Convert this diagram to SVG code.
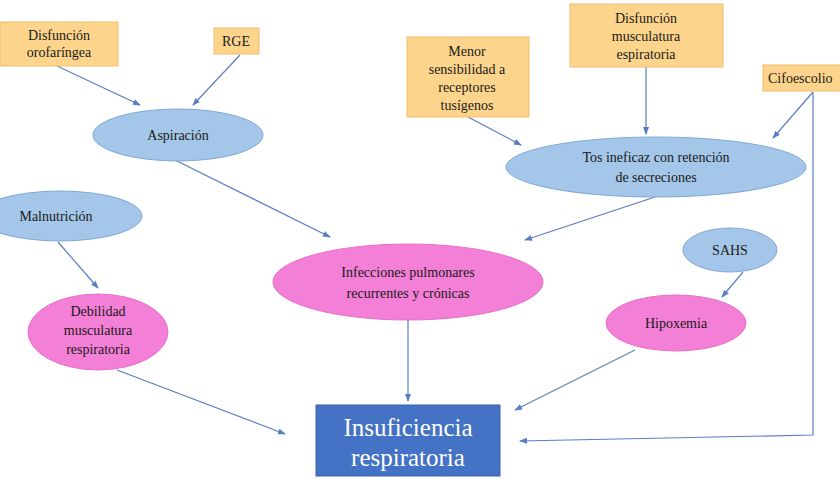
<svg xmlns="http://www.w3.org/2000/svg" width="840" height="480" viewBox="0 0 840 480">
<style>
text{font-family:"Liberation Serif","Times New Roman",serif;fill:#1a1a1a;text-anchor:middle}
.t{font-size:14px}
.b{fill:#fcd48c;stroke:#f2bd6a;stroke-width:1}
.e{fill:#a4c6e8;stroke:#7fa8d8;stroke-width:1}
.p{fill:#f47fd6;stroke:#e86cc8;stroke-width:1}
.c{stroke:#5a7ec2;stroke-width:1.2;fill:none;marker-end:url(#a)}
</style>
<defs><marker id="a" markerWidth="8" markerHeight="8" refX="7" refY="4" orient="auto" markerUnits="userSpaceOnUse"><path d="M0,1 L8,4 L0,7 Z" fill="#5a7ec2"/></marker></defs>
<rect width="840" height="480" fill="#fff"/>
<g id="connectors">
<line class="c" x1="57" y1="66" x2="140" y2="105"/>
<line class="c" x1="240" y1="55" x2="193" y2="105"/>
<line class="c" x1="175" y1="160" x2="330" y2="237"/>
<line class="c" x1="58" y1="242" x2="98" y2="288"/>
<line class="c" x1="468" y1="117" x2="521" y2="145"/>
<line class="c" x1="646" y1="67" x2="646" y2="134"/>
<line class="c" x1="813" y1="92" x2="773" y2="138"/>
<line class="c" x1="655" y1="197" x2="525" y2="240"/>
<line class="c" x1="743" y1="272" x2="722" y2="297"/>
<line class="c" x1="117" y1="370" x2="285" y2="434"/>
<line class="c" x1="408" y1="320" x2="408" y2="401"/>
<line class="c" x1="635" y1="350" x2="515" y2="410"/>
<polyline class="c" points="813,92 813,435 520,441"/>
</g>
<g id="orofaringea"><rect class="b" x="0" y="22" width="118" height="44"/><text class="t" x="59" y="40">Disfunción</text><text class="t" x="59" y="57">orofaríngea</text></g>
<g id="rge"><rect class="b" x="214" y="28" width="45" height="26"/><text class="t" x="236" y="46">RGE</text></g>
<g id="aspiracion"><ellipse class="e" cx="178" cy="135" rx="85" ry="26"/><text class="t" x="178" y="140">Aspiración</text></g>
<g id="malnutricion"><ellipse class="e" cx="60" cy="216" rx="82" ry="25"/><text class="t" x="56" y="221">Malnutrición</text></g>
<g id="debilidad"><ellipse class="p" cx="98" cy="332" rx="70" ry="38"/><text class="t" x="98" y="316">Debilidad</text><text class="t" x="98" y="335">musculatura</text><text class="t" x="98" y="354">respiratoria</text></g>
<g id="infecciones"><ellipse class="p" cx="408" cy="282" rx="135" ry="38"/><text class="t" x="408" y="277">Infecciones pulmonares</text><text class="t" x="408" y="298">recurrentes y crónicas</text></g>
<g id="menor"><rect class="b" x="407" y="37" width="122" height="80"/><text class="t" x="467" y="56">Menor</text><text class="t" x="467" y="74">sensibilidad a</text><text class="t" x="467" y="92">receptores</text><text class="t" x="467" y="110">tusígenos</text></g>
<g id="disfmusc"><rect class="b" x="570" y="4" width="153" height="63"/><text class="t" x="646" y="23">Disfunción</text><text class="t" x="646" y="41">musculatura</text><text class="t" x="646" y="59">espiratoria</text></g>
<g id="cifo"><rect class="b" x="763" y="65" width="80" height="26"/><text class="t" x="768" y="83" style="text-anchor:start">Cifoescolio</text></g>
<g id="tos"><ellipse class="e" cx="656" cy="167" rx="150" ry="30"/><text class="t" x="656" y="162">Tos ineficaz con retención</text><text class="t" x="656" y="182">de secreciones</text></g>
<g id="sahs"><ellipse class="e" cx="730" cy="250" rx="47" ry="22"/><text class="t" x="730" y="255">SAHS</text></g>
<g id="hipoxemia"><ellipse class="p" cx="676" cy="323" rx="70" ry="28"/><text class="t" x="676" y="328">Hipoxemia</text></g>
<g id="insuficiencia"><rect x="316" y="405" width="184" height="71" fill="#4472c4" stroke="#3a62a8"/><text x="408" y="436" style="font-size:25px;fill:#fff">Insuficiencia</text><text x="408" y="466" style="font-size:25px;fill:#fff">respiratoria</text></g>
</svg>
